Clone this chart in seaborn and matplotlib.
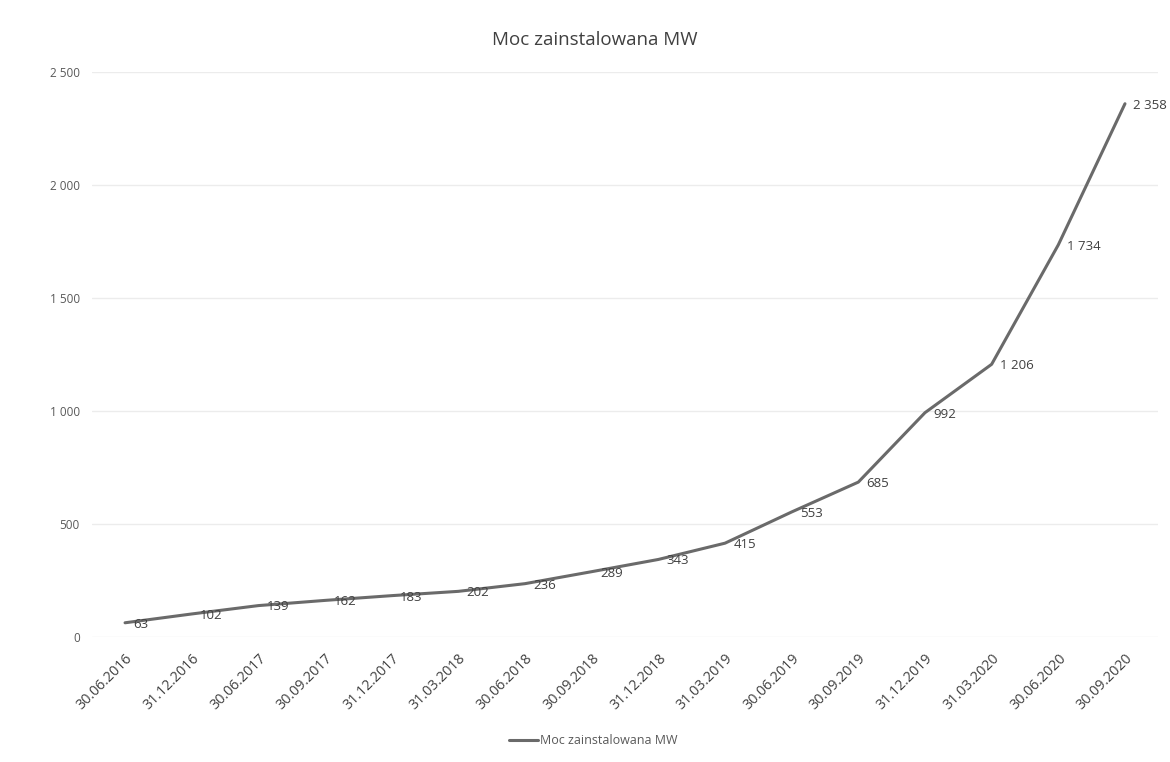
import pandas as pd
import matplotlib.pyplot as plt
import seaborn as sns

# dane
daty = ['30.06.2016', '31.12.2016', '30.06.2017', '30.09.2017', '31.12.2017',
        '31.03.2018', '30.06.2018', '30.09.2018', '31.12.2018', '31.03.2019',
        '30.06.2019', '30.09.2019', '31.12.2019', '31.03.2020', '30.06.2020',
        '30.09.2020']
moc_mw = [63, 102, 139, 162, 183, 202, 236, 289, 343, 415, 553, 685, 992,
          1206, 1734, 2358]
y_ticks = [0, 500, 1000, 1500, 2000, 2500]

df = pd.DataFrame({'data': daty, 'moc': moc_mw})

sns.set_style('white')
plt.rcParams['font.family'] = ['Open Sans', 'DejaVu Sans']

fig = plt.figure(figsize=(11.7, 7.62), dpi=100)
ax = fig.add_axes([0.0784, 0.164, 0.9116, 0.742])

sns.lineplot(data=df, x='data', y='moc', ax=ax, color='#6a6a6a', linewidth=2.2,
             sort=False, label='Moc zainstalowana MW', legend=False)

# etykiety danych po prawej stronie punktów
for i, v in enumerate(moc_mw):
    txt = f'{v:,}'.replace(',', ' ')
    ax.annotate(txt, (i, v), xytext=(6, -1), textcoords='offset points',
                ha='left', va='center', fontsize=9.5, color='#404040',
                annotation_clip=False)

ax.set_xlim(-0.5, len(daty) - 0.5)
ax.set_ylim(0, 2500)
ax.set_yticks(y_ticks)
ax.set_yticklabels([f'{t:,}'.replace(',', ' ') for t in y_ticks],
                   fontsize=8.5, color='#595959')
ax.tick_params(axis='y', length=0, pad=8.5)
ax.tick_params(axis='x', length=0, pad=10)
plt.setp(ax.get_xticklabels(), rotation=45, ha='right', rotation_mode='anchor',
         fontsize=10.3, color='#404040')
ax.grid(axis='y', color='#ececec', linewidth=1)
ax.set_axisbelow(True)
for s in ax.spines.values():
    s.set_visible(False)
ax.set_xlabel('')
ax.set_ylabel('')

fig.text(0.508, 0.947, 'Moc zainstalowana MW', ha='center', va='center',
         fontsize=13.5, color='#404040')

handles, labels = ax.get_legend_handles_labels()
fig.legend(handles, labels, loc='center', bbox_to_anchor=(0.507, 0.0276),
           bbox_transform=fig.transFigure, frameon=False,
           fontsize=9, handlelength=2.3, handletextpad=0.15,
           labelcolor='#595959')

fig.savefig('out.png', dpi=100, facecolor='white')
